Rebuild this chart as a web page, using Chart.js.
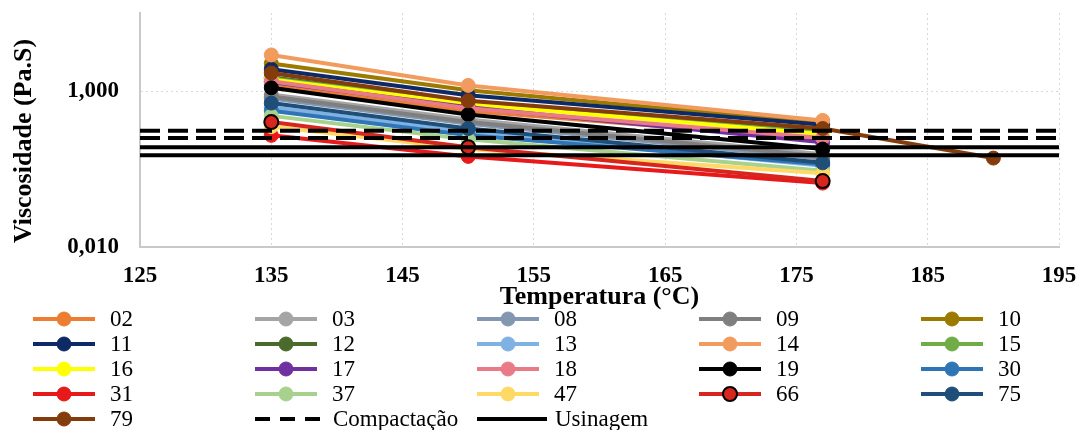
<!DOCTYPE html>
<html>
<head>
<meta charset="utf-8">
<script src="https://cdn.jsdelivr.net/npm/chart.js@4.4.1/dist/chart.umd.min.js"></script>
<style>
  body { margin: 0; background: #fff; width: 1078px; height: 430px; overflow: hidden; position: relative; font-family: "Liberation Serif", "Times New Roman", serif; }
  #wrap { position: absolute; left: 0; top: 0; width: 1078px; height: 310px; }
  #legend { position: absolute; left: 0; top: 0; width: 1078px; height: 430px; pointer-events: none; }
  .item { position: absolute; height: 25px; display: flex; align-items: center; font-size: 23px; line-height: 25px; color: #000; white-space: nowrap; }
  .item canvas { display: block; }
</style>
</head>
<body>
<div id="wrap"><canvas id="chart" width="1078" height="310"></canvas></div>
<div id="legend"></div>
<script>
// temperatures (°C)
const temps = [135, 150, 177]
const temps79 = [135, 150, 177, 190]
const limitTemps = [125, 195]

// viscosity (Pa.s) per sample
const visc02 = [1.20, 0.56, 0.24]
const visc03 = [0.90, 0.43, 0.155]
const visc08 = [0.80, 0.38, 0.135]
const visc09 = [0.85, 0.40, 0.145]
const visc10 = [2.25, 1.02, 0.39]
const visc11 = [1.90, 0.88, 0.37]
const visc12 = [1.50, 0.72, 0.30]
const visc13 = [0.62, 0.30, 0.110]
const visc14 = [2.90, 1.18, 0.42]
const visc15 = [1.45, 0.70, 0.29]
const visc16 = [1.40, 0.68, 0.28]
const visc17 = [1.30, 0.62, 0.22]
const visc18 = [1.33, 0.60, 0.25]
const visc19 = [1.10, 0.50, 0.18]
const visc30 = [0.56, 0.27, 0.115]
const visc31 = [0.27, 0.145, 0.066]
const visc37 = [0.48, 0.24, 0.095]
const visc47 = [0.35, 0.18, 0.088]
const visc66 = [0.40, 0.19, 0.070]
const visc75 = [0.70, 0.33, 0.12]
const visc79 = [1.70, 0.75, 0.33, 0.138]

// limits
const compactacao = [0.25, 0.31]
const usinagem = [0.15, 0.19]

const yTicks = [0.01, 1]

const samples = [
  ["02", visc02, temps], ["03", visc03, temps], ["08", visc08, temps], ["09", visc09, temps], ["10", visc10, temps],
  ["11", visc11, temps], ["12", visc12, temps], ["13", visc13, temps], ["14", visc14, temps], ["15", visc15, temps],
  ["16", visc16, temps], ["17", visc17, temps], ["18", visc18, temps], ["19", visc19, temps], ["30", visc30, temps],
  ["31", visc31, temps], ["37", visc37, temps], ["47", visc47, temps], ["66", visc66, temps], ["75", visc75, temps],
  ["79", visc79, temps79]
]

const colors = {
  "02": "#ED7D31", "03": "#A5A5A5", "08": "#8497B0", "09": "#7F7F7F", "10": "#9C7A00",
  "11": "#0E2A66", "12": "#4B6B2D", "13": "#7FB1E3", "14": "#F29B5F", "15": "#70AD47",
  "16": "#FFFF00", "17": "#7030A0", "18": "#E97B86", "19": "#000000", "30": "#2E75B6",
  "31": "#E8191B", "37": "#A9D18E", "47": "#FFD966", "66": "#D7261E", "75": "#1F4E79",
  "79": "#843C0C"
}

const FONT = '"Liberation Serif", "Times New Roman", serif'

const datasets = samples.map(([name, vals, xs], i) => {
  const c = colors[name]
  const is66 = name === "66"
  return {
    label: name,
    data: vals.map((v, k) => ({ x: xs[k], y: v })),
    borderColor: c,
    backgroundColor: c,
    borderWidth: 4,
    pointRadius: 7,
    pointBackgroundColor: c,
    pointBorderColor: is66 ? "#000" : c,
    pointBorderWidth: is66 ? 2 : 1,
    tension: 0,
    order: -i
  }
})

function limitLine(label, v, dash) {
  return {
    label: label,
    data: limitTemps.map(x => ({ x: x, y: v })),
    borderColor: "#000",
    borderWidth: 4,
    borderDash: dash,
    pointRadius: 0,
    order: -100
  }
}
compactacao.forEach(v => datasets.push(limitLine("Compactação", v, [20, 8])))
usinagem.forEach(v => datasets.push(limitLine("Usinagem", v, [])))

const yTitle = {
  id: "yTitle",
  afterDraw(chart) {
    const { ctx, chartArea } = chart
    ctx.save()
    ctx.translate(24, chartArea.top + (chartArea.bottom - chartArea.top) * 0.547)
    ctx.rotate(-Math.PI / 2)
    ctx.font = "bold 26px " + FONT
    ctx.fillStyle = "#000"
    ctx.textAlign = "center"
    ctx.textBaseline = "middle"
    ctx.fillText("Viscosidade (Pa.S)", 0, 0)
    ctx.restore()
  }
}

const chart = new Chart(document.getElementById("chart").getContext("2d"), {
  type: "line",
  data: { datasets: datasets },
  options: {
    responsive: false,
    animation: false,
    layout: { padding: { top: 13, right: 19, left: 0, bottom: 0 } },
    plugins: { legend: { display: false }, tooltip: { enabled: false } },
    scales: {
      x: {
        type: "linear",
        min: 125,
        max: 195,
        ticks: { stepSize: 10, color: "#000", padding: 15, font: { family: FONT, size: 23, weight: "bold" } },
        grid: { color: "#D9D9D9", lineWidth: 1, drawTicks: false },
        border: { color: "#C9C9C9", width: 2, dash: [2, 3] },
        title: { display: true, text: "Temperatura (°C)", color: "#000", padding: { top: 0, bottom: 0 }, font: { family: FONT, size: 26, weight: "bold", lineHeight: 1 } },
        afterFit: s => { s.height = 63; s.paddingLeft = 0; s.paddingRight = 0 }
      },
      y: {
        type: "logarithmic",
        min: 0.01,
        max: 10,
        afterBuildTicks: s => { s.ticks = yTicks.map(v => ({ value: v })) },
        ticks: {
          color: "#000",
          padding: 21,
          font: { family: FONT, size: 23, weight: "bold" },
          callback: v => Number(v).toFixed(3).replace(".", ",")
        },
        grid: { color: "#D9D9D9", lineWidth: 1, drawTicks: false },
        border: { color: "#C9C9C9", width: 2, dash: [2, 3] },
        afterFit: s => { s.width = 140; s.paddingTop = 0; s.paddingBottom = 0 }
      }
    }
  },
  plugins: [yTitle]
})

// legend, 5 columns
const legend = document.getElementById("legend")
const legendItems = samples.map(s => ({ name: s[0], kind: "marker" }))
legendItems.push({ name: "Compactação", kind: "dash" })
legendItems.push({ name: "Usinagem", kind: "solid" })

legendItems.forEach((it, i) => {
  const col = i % 5
  const row = Math.floor(i / 5)
  const div = document.createElement("div")
  div.className = "item"
  div.style.left = (33 + col * 222) + "px"
  div.style.top = (306 + row * 25) + "px"

  const w = it.kind === "marker" ? 62 : 70
  const cv = document.createElement("canvas")
  cv.width = w
  cv.height = 24
  const g = cv.getContext("2d")
  const c = it.kind === "marker" ? colors[it.name] : "#000"
  g.strokeStyle = c
  g.lineWidth = 4
  if (it.kind === "dash") g.setLineDash([15, 10])
  g.beginPath()
  g.moveTo(0, 12)
  g.lineTo(w, 12)
  g.stroke()
  if (it.kind === "marker") {
    g.setLineDash([])
    g.beginPath()
    g.arc(w / 2, 12, 7, 0, Math.PI * 2)
    g.fillStyle = c
    g.fill()
    g.lineWidth = it.name === "66" ? 2 : 1
    g.strokeStyle = it.name === "66" ? "#000" : c
    g.stroke()
  }
  div.appendChild(cv)

  const span = document.createElement("span")
  span.textContent = it.name
  span.style.marginLeft = (it.kind === "marker" ? 15 : 8) + "px"
  div.appendChild(span)
  legend.appendChild(div)
})
</script>
</body>
</html>
